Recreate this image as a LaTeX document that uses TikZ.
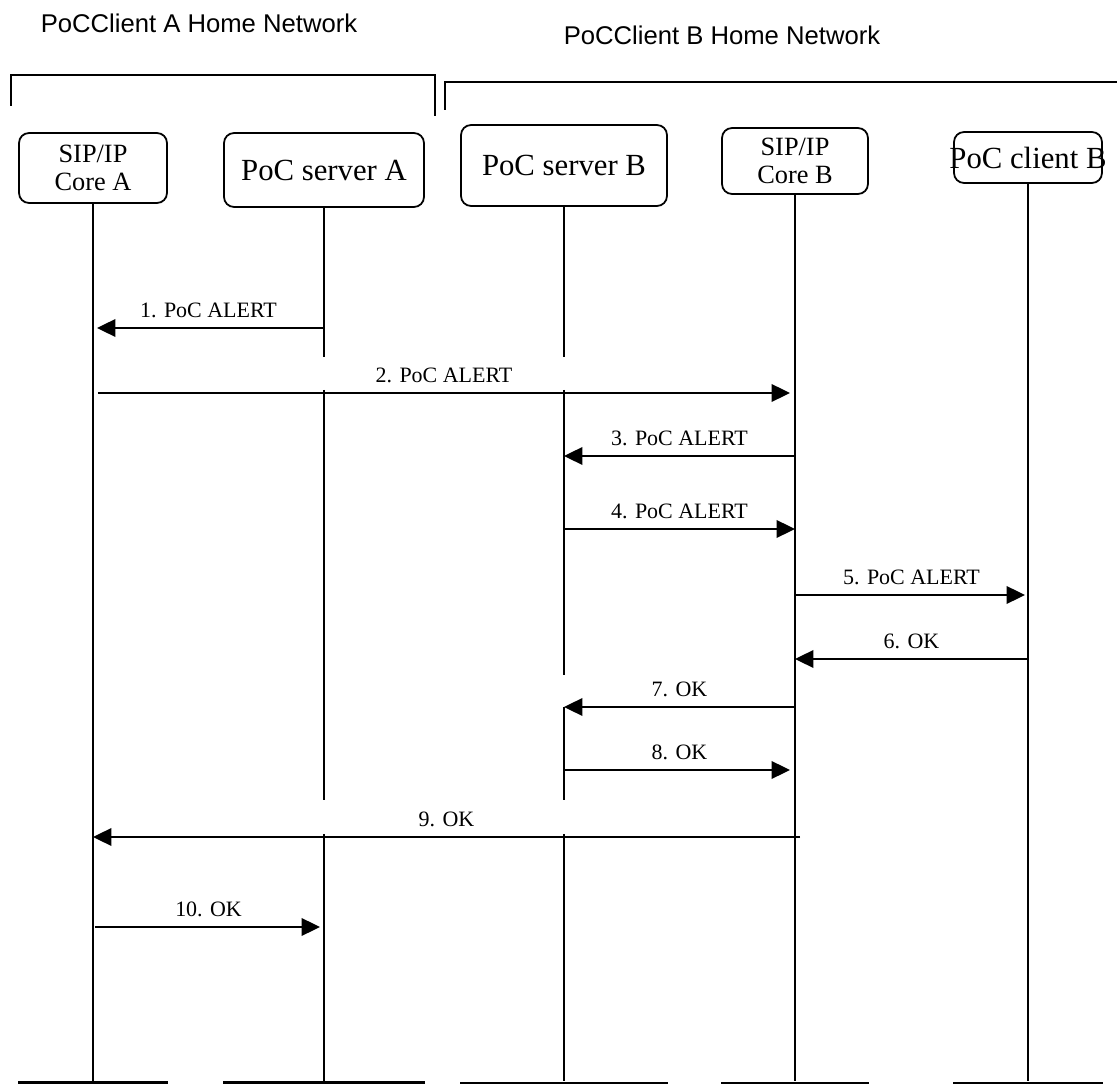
\documentclass[tikz,border=0pt]{standalone}
\usepackage{fontspec}
\setmainfont{Liberation Serif}
\newfontfamily\titlefont{Liberation Sans}
\usetikzlibrary{arrows.meta}

\tikzset{
  entity/.style={draw,line width=1pt,rounded corners=0.2cm,align=center,inner sep=0pt},
  bigname/.style={font=\fontsize{17.5}{19}\selectfont},
  twoline/.style={font=\fontsize{15}{16}\selectfont},
  life/.style={line width=0.85pt},
  msg/.style={line width=1.1pt,-{Triangle[length=10.5pt,width=10pt]}},
  lbl/.style={font=\fontsize{12.5}{14}\selectfont,yshift=0.36cm},
  nettitle/.style={font=\titlefont\fontsize{14.6}{17}\selectfont},
  bar/.style={line width=1.9pt},
  thinbar/.style={line width=1.2pt}
}

\begin{document}
\begin{tikzpicture}[x=0.02cm,y=-0.02cm]
\useasboundingbox (0,0) rectangle (1117,1084);

%---------------- Home networks ----------------
\node[nettitle] (netA) at (199,23) {PoCClient A Home Network};
\node[nettitle] (netB) at (722,35) {PoCClient B Home Network};

\draw[line width=0.9pt] (11,106) -- (11,75) -- (435,75) -- (435,116);
\draw[line width=0.9pt] (445,110) -- (445,82) -- (1117,82);

%---------------- Entities ----------------
\node[entity,twoline,minimum width=2.96cm,minimum height=1.4cm] (coreA) at (93,168) {SIP/IP\\Core A};
\node[entity,bigname,minimum width=4.0cm,minimum height=1.48cm] (srvA) at (324,170) {PoC server A};
\node[entity,bigname,minimum width=4.12cm,minimum height=1.62cm] (srvB) at (564,165.5) {PoC server B};
\node[entity,twoline,minimum width=2.92cm,minimum height=1.32cm] (coreB) at (795,161) {SIP/IP\\Core B};
\node[entity,bigname,minimum width=2.96cm,minimum height=1.02cm] (cliB) at (1028,157.5) {\makebox[0pt]{PoC client B}};

% Levels
\coordinate (m1) at (0,328);
\coordinate (m2) at (0,393);
\coordinate (m3) at (0,456);
\coordinate (m4) at (0,529);
\coordinate (m5) at (0,595);
\coordinate (m6) at (0,659);
\coordinate (m7) at (0,707);
\coordinate (m8) at (0,770);
\coordinate (m9) at (0,837);
\coordinate (m10) at (0,927);
\coordinate (g1a) at (0,357);
\coordinate (g1b) at (0,390);
\coordinate (g2a) at (0,675);
\coordinate (g3a) at (0,800);
\coordinate (g3b) at (0,834);
\coordinate (bot) at (0,1081);
\coordinate (barA) at (0,1082.3);
\coordinate (barB) at (0,1083);

%---------------- Lifelines ----------------
\draw[life] (coreA.south) -- (coreA |- bot);
\draw[life] (srvA.south) -- (srvA |- g1a);
\draw[life] (srvA |- g1b) -- (srvA |- g3a);
\draw[life] (srvA |- g3b) -- (srvA |- bot);
\draw[life] (srvB.south) -- (srvB |- g1a);
\draw[life] (srvB |- g1b) -- (srvB |- g2a);
\draw[life] (srvB |- m7) -- (srvB |- g3a);
\draw[life] (srvB |- g3b) -- (srvB |- bot);
\draw[life] (coreB.south) -- (coreB |- bot);
\draw[life] (cliB.south) -- (cliB |- bot);

% Bottom bars
\draw[bar] (coreA.west |- barA) -- (coreA.east |- barA);
\draw[bar] (srvA.west |- barA) -- (srvA.east |- barA);
\draw[thinbar] (srvB.west |- barB) -- (srvB.east |- barB);
\draw[thinbar] (coreB.west |- barB) -- (coreB.east |- barB);
\draw[thinbar] (cliB.west |- barB) -- (cliB.east |- barB);

%---------------- Messages ----------------
\draw[msg,shorten >=0.08cm] (srvA |- m1) -- (coreA |- m1) node[lbl,midway] (l1) {1. PoC ALERT};
\draw[msg,shorten <=0.1cm,shorten >=0.1cm] (coreA |- m2) -- (coreB |- m2) node[lbl,midway] (l2) {2. PoC ALERT};
\draw[msg] (coreB |- m3) -- (srvB |- m3) node[lbl,midway] (l3) {3. PoC ALERT};
\draw[msg] (srvB |- m4) -- (coreB |- m4) node[lbl,midway] (l4) {4. PoC ALERT};
\draw[msg,shorten >=0.06cm] (coreB |- m5) -- (cliB |- m5) node[lbl,midway] (l5) {5. PoC ALERT};
\draw[msg] (cliB |- m6) -- (coreB |- m6) node[lbl,midway] (l6) {6. OK};
\draw[msg] (coreB |- m7) -- (srvB |- m7) node[lbl,midway] (l7) {7. OK};
\draw[msg,shorten >=0.1cm] (srvB |- m8) -- (coreB |- m8) node[lbl,midway] (l8) {8. OK};
\draw[msg] ([xshift=0.1cm]coreB |- m9) -- (coreA |- m9) node[lbl,midway] (l9) {9. OK};
\draw[msg,shorten <=0.04cm,shorten >=0.08cm] (coreA |- m10) -- (srvA |- m10) node[lbl,midway] (l10) {10. OK};

\end{tikzpicture}
\end{document}
